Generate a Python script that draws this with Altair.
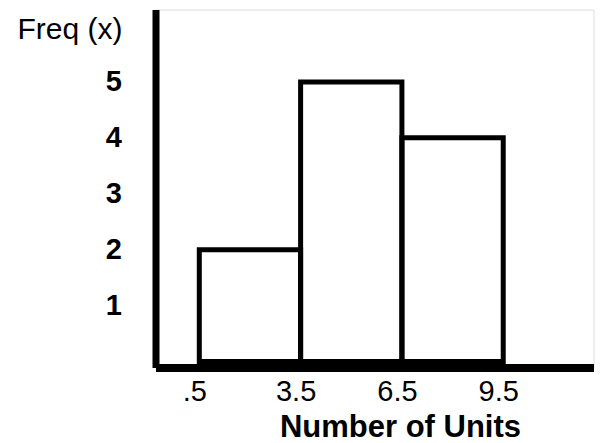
import altair as alt
import pandas as pd

# Histogram data
bin_start = [0.5, 3.5, 6.5]
bin_end = [3.5, 6.5, 9.5]
freq = [2, 5, 4]
x_tick_values = [0.5, 3.5, 6.5, 9.5]
x_tick_labels = [".5", "3.5", "6.5", "9.5"]
y_tick_values = [1, 2, 3, 4, 5]

df = pd.DataFrame({"start": bin_start, "end": bin_end, "freq": freq,
                   "base": [0] * len(freq)})

label_expr = " : ".join(
    [f"datum.value == {v} ? '{t}'" for v, t in zip(x_tick_values, x_tick_labels)]
) + " : ''"

FONT = "Liberation Sans"

chart = alt.Chart(df).mark_rect(
    fillOpacity=0, stroke="black", strokeWidth=5
).encode(
    x=alt.X("start:Q",
            scale=alt.Scale(domain=[-0.797, 12.173], nice=False, zero=False),
            axis=alt.Axis(values=x_tick_values, labelExpr=label_expr,
                          ticks=False, grid=False,
                          domainColor="black", domainWidth=8,
                          labelFontSize=29, labelColor="black",
                          labelPadding=10, labelOffset=-5,
                          labelOverlap=False, labelFlush=False,
                          title="Number of Units", titleFontSize=31,
                          titleFontWeight="bold", titleColor="black",
                          titleX=244.5, titleY=69, titleAlign="center",
                          titleBaseline="alphabetic")),
    x2="end:Q",
    y=alt.Y("freq:Q",
            scale=alt.Scale(domain=[-0.107, 6.295], nice=False, zero=False),
            axis=alt.Axis(values=y_tick_values, ticks=False, grid=False,
                          domainColor="black", domainWidth=7,
                          labelFontSize=29, labelFontWeight="bold",
                          labelColor="black", labelPadding=34,
                          labelOverlap=False,
                          title="Freq (x)", titleAngle=0, titleFontSize=30,
                          titleFontWeight="normal", titleColor="black",
                          titleX=-33.5, titleY=28.5, titleAlign="right",
                          titleBaseline="alphabetic")),
    y2="base:Q",
).properties(
    width=438, height=358,
    autosize="none",
    padding={"left": 147.5, "top": 1.5, "right": 1.5, "bottom": 75.5},
).configure_view(strokeWidth=0).configure(font=FONT)

chart.save("out.html", embed_options={"renderer": "svg", "actions": False})
